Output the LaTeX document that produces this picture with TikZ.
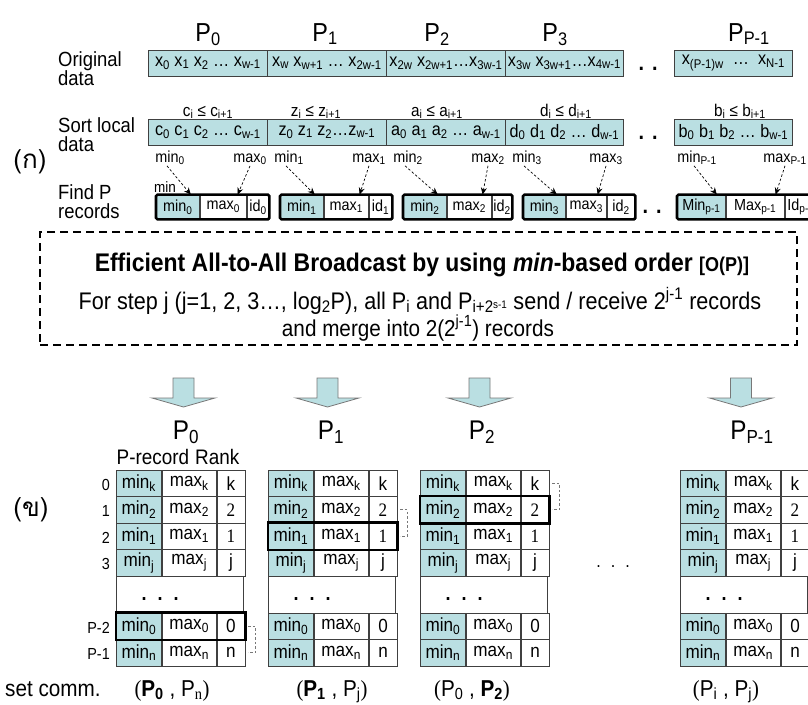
\documentclass[tikz,border=0pt]{standalone}
\usepackage{fontspec}
\setmainfont{Liberation Sans}[FakeStretch=0.9]
\newfontfamily\serf{Liberation Serif}[FakeStretch=0.9]
\newfontfamily\thaifont[Script=Thai]{Loma}
\usetikzlibrary{arrows.meta}
\definecolor{tealc}{RGB}{186,223,226}
\definecolor{bgray}{RGB}{64,64,64}
\definecolor{agray}{RGB}{120,120,120}
\newcommand{\sbs}[1]{\textsubscript{#1}}
\newcommand{\sps}[1]{\textsuperscript{#1}}
\newcommand{\fsz}[1]{\fontsize{#1}{#1}\selectfont}
\newcommand{\rkS}[1]{{\serf #1}}
\begin{document}
\begin{tikzpicture}[x=1pt,y=-1pt,
  seg/.style={draw=bgray, line width=0.8pt, fill=tealc, minimum height=26pt, inner sep=0pt, anchor=west, font=\fsz{18}},
  plab/.style={font=\fsz{26}, inner sep=0pt, anchor=base},
  rlab/.style={font=\fontsize{20.5}{19.5}\selectfont, inner sep=0pt, anchor=north west, align=left},
  cons/.style={font=\fsz{17}, inner sep=0pt, anchor=base},
  mmlab/.style={font=\fsz{16}, inner sep=1pt, anchor=base},
  rcell/.style={draw=bgray, line width=0.8pt, minimum height=24pt, inner sep=0pt, anchor=west, font=\fsz{16}},
  rmin/.style={rcell, fill=tealc},
  rwhite/.style={rcell, fill=white},
  rec/.style={line width=2.6pt, rounded corners=1.5pt},
  dar/.style={dash pattern=on 2.5pt off 2pt, line width=0.7pt, -{Stealth[length=7pt,width=6pt]}},
  dotn/.style={font=\fsz{22}\bfseries, inner sep=0pt, anchor=base},
  blockar/.style={fill=tealc, draw=agray, line width=0.8pt},
  tcell/.style={draw=bgray, line width=0.8pt, minimum height=26.5pt, inner sep=0pt, anchor=west, font=\fsz{19}},
  tmin/.style={tcell, fill=tealc, minimum width=45pt},
  tmax/.style={tcell, fill=white, minimum width=54pt},
  trk/.style={tcell, fill=white, minimum width=28pt},
  tdots/.style={draw=bgray, line width=0.8pt, fill=white, minimum width=127pt, minimum height=37pt, inner sep=0pt, anchor=west},
  thk/.style={line width=2.6pt},
  brk/.style={draw=agray, dash pattern=on 2.5pt off 2pt, line width=0.8pt},
  bl/.style={font=\fsz{23}, inner sep=0pt, anchor=base}
]
\useasboundingbox (0,0) rectangle (808,704);
\clip (0,0) rectangle (808,704);

% top processor labels
\node[plab] (tp0) at (208,41) {P\sbs{0}};
\node[plab] (tp1) at (325,41) {P\sbs{1}};
\node[plab] (tp2) at (437,41) {P\sbs{2}};
\node[plab] (tp3) at (555,41) {P\sbs{3}};
\node[plab] (tp4) at (749,41) {P\sbs{P-1}};

% row labels
\node[rlab] (lo) at (58,51) {Original\\data};
\node[rlab] (ls) at (58,117) {Sort local\\data};
\node[rlab] (lf) at (58,184) {Find P\\records};

\node[font=\thaifont\fsz{26}, inner sep=0pt] (ka) at (30,162) {(ก)};

% original data
\foreach \i/\xl/\w/\tx in {0/148/119/{x\sbs{0} x\sbs{1} x\sbs{2} … x\sbs{w-1}},
  1/267/119/{x\sbs{w} x\sbs{w+1} … x\sbs{2w-1}},
  2/386/119/{x\sbs{2w} x\sbs{2w+1}…x\sbs{3w-1}},
  3/505/118/{x\sbs{3w} x\sbs{3w+1}…x\sbs{4w-1}},
  4/674/118/{x\sbs{(P-1)w}\ \ …\ \ x\sbs{N-1}}}
  \node[seg, minimum width=\w pt] (od\i) at (\xl,63) {\tx};

% sorted data
\foreach \i/\xl/\w/\tx in {0/148/119/{c\sbs{0} c\sbs{1} c\sbs{2} … c\sbs{w-1}},
  1/267/119/{z\sbs{0} z\sbs{1} z\sbs{2}…z\sbs{w-1}},
  2/386/119/{a\sbs{0} a\sbs{1} a\sbs{2} … a\sbs{w-1}},
  3/505/118/{d\sbs{0} d\sbs{1} d\sbs{2} … d\sbs{w-1}},
  4/674/118/{b\sbs{0} b\sbs{1} b\sbs{2} … b\sbs{w-1}}}
  \node[seg, minimum width=\w pt] (sl\i) at (\xl,132) {\tx};

\foreach \i/\xc/\tx in {0/208/{c\sbs{i} ≤ c\sbs{i+1}}, 1/316/{z\sbs{i} ≤ z\sbs{i+1}},
  2/437/{a\sbs{i} ≤ a\sbs{i+1}}, 3/566/{d\sbs{i} ≤ d\sbs{i+1}}, 4/740/{b\sbs{i} ≤ b\sbs{i+1}}}
  \node[cons] (cs\i) at (\xc,116) {\tx};

\node[dotn] (dt1) at (648,70) {.\hspace{8pt}.};
\node[dotn] (dt2) at (648,139) {.\hspace{8pt}.};
\node[dotn] (dt3) at (652,213) {.\hspace{8pt}.};

% P records
\foreach \i/\xa/\wa/\wb/\wc/\ta/\tbb/\tcc/\mnx/\mxx/\lna/\lxa in {
  0/156/43/46/22/min\sbs{0}/max\sbs{0}/id\sbs{0}/170/250/min\sbs{0}/max\sbs{0},
  1/280/43/44/23/min\sbs{1}/max\sbs{1}/id\sbs{1}/289/369/min\sbs{1}/max\sbs{1},
  2/403/43/44/20/min\sbs{2}/max\sbs{2}/id\sbs{2}/408/488/min\sbs{2}/max\sbs{2},
  3/523/42/40/28/min\sbs{3}/max\sbs{3}/id\sbs{2}/527/606/min\sbs{3}/max\sbs{3},
  4/677/48/58/32/Min\sbs{p-1}/Max\sbs{p-1}/Id\sbs{p-1}/697/785/min\sbs{P-1}/max\sbs{P-1}} {
  \node[rmin, minimum width=\wa pt] (r\i-a) at (\xa,207) {\ta};
  \node[rwhite, minimum width=\wb pt] (r\i-b) at (r\i-a.east) {\tbb};
  \node[rwhite, minimum width=\wc pt] (r\i-c) at (r\i-b.east) {\tcc};
  \draw[rec] (r\i-a.north west) rectangle (r\i-c.south east);
  \node[mmlab] (lmn\i) at (\mnx,162) {\lna};
  \node[mmlab] (lmx\i) at (\mxx,162) {\lxa};
  \draw[dar] ([xshift=-3pt]lmn\i.south) -- ([xshift=-9pt]r\i-a.north east);
  \draw[dar] (lmx\i.south) -- ([xshift=-9pt]r\i-b.north east);
}
\node[font=\fsz{15}, anchor=base west, inner sep=0pt] (minsm) at (154,192) {min};

% broadcast box
\node[draw, line width=1.4pt, dash pattern=on 8pt off 5pt, minimum width=757pt, minimum height=113pt, inner sep=0pt] (bc) at (418.5,288.5) {};
\node[anchor=base, inner sep=0pt, font=\fsz{25.5}\bfseries] (bt1) at (422,271) {Efficient All-to-All Broadcast by using \textit{min}-based order {\fsz{20}[O(P)]}};
\node[anchor=base, inner sep=0pt, font=\fsz{24}] (bt2) at (420,309) {For step j (j=1, 2, 3…, log\sbs{2}P), all P\sbs{i} and P\sbs{i+2\raisebox{0.45ex}{\fsz{11}s-1}} send / receive 2\sps{j-1} records};
\node[anchor=base, inner sep=0pt, font=\fsz{23}] (bt3) at (418,336) {and merge into 2(2\sps{j-1}) records};

% block arrows
\foreach \c in {183.5,327.5,479.5,741}
  \draw[blockar] (\c-10.5,378) -- (\c+10.5,378) -- (\c+10.5,398) -- (\c+31.5,398) -- (\c,407) -- (\c-31.5,398) -- (\c-10.5,398) -- cycle;

% bottom processor labels
\node[plab, font=\fsz{27}] (bp0) at (186,439) {P\sbs{0}};
\node[plab, font=\fsz{27}] (bp1) at (331,439) {P\sbs{1}};
\node[plab, font=\fsz{27}] (bp2) at (482,439) {P\sbs{2}};
\node[plab, font=\fsz{27}] (bp3) at (752,439) {P\sbs{P-1}};

\node[font=\fsz{21}, anchor=base, inner sep=0pt] (prr) at (178,464) {P-record\hspace{6pt}Rank};
\node[font=\thaifont\fsz{26}, inner sep=0pt] (kh) at (31,510) {(ข)};

% tables
\foreach \L [count=\tb from 0] in {116,268,420,680} {
  \foreach \ro/\yc/\sx/\rk in {0/483.25/k/k, 1/509.75/2/\rkS{2}, 2/536.25/1/\rkS{1}, 3/562.75/j/j, 4/626.25/0/0, 5/652.75/n/n} {
    \node[tmin] (t\tb-\ro-a) at (\L,\yc) {min\sbs{\sx}};
    \node[tmax] (t\tb-\ro-b) at (t\tb-\ro-a.east) {max\sbs{\sx}};
    \node[trk] (t\tb-\ro-c) at (t\tb-\ro-b.east) {\rk};
  }
  \node[tdots] (t\tb-d) at (\L,594.5) {};
  \node[dotn, font=\fsz{20}\bfseries] (t\tb-dd) at (\L+44,600) {.\hspace{11pt}.\hspace{11pt}.};
}
\draw[thk] (t0-4-a.north west) rectangle (t0-4-c.south east);
\draw[thk] (t1-2-a.north west) rectangle (t1-2-c.south east);
\draw[thk] (t2-1-a.north west) rectangle (t2-1-c.south east);
\draw[brk] ([xshift=3pt]t0-4-c.east) -| ([xshift=10pt]t0-5-c.east) -- ([xshift=3pt]t0-5-c.east);
\draw[brk] ([xshift=3pt]t1-1-c.east) -| ([xshift=10pt]t1-2-c.east) -- ([xshift=3pt]t1-2-c.east);
\draw[brk] ([xshift=3pt]t2-0-c.east) -| ([xshift=10pt]t2-1-c.east) -- ([xshift=3pt]t2-1-c.east);

\foreach \ro/\yc/\tx in {0/490/0, 1/516/1, 2/543/2, 3/569/3, 4/633/P-2, 5/659/P-1}
  \node[font=\fsz{16}, anchor=base east, inner sep=0pt] (rl\ro) at (110,\yc) {\tx};

\node[font=\fsz{18}, anchor=base, inner sep=0pt] (midd) at (613,567) {.\hspace{10pt}.\hspace{10pt}.};

% bottom labels
\node[bl, anchor=base west] (sc) at (5,696) {set comm.};
\node[bl] (c0) at (172,696) {{\serf(}\textbf{P\sbs{0}} , P\sbs{\serf n}{\serf)}};
\node[bl] (c1) at (332,696) {{\serf(}\textbf{P\sbs{1}} , P\sbs{j}{\serf)}};
\node[bl] (c2) at (472,696) {{\serf(}P\sbs{0} , \textbf{P\sbs{2}}{\serf)}};
\node[bl] (c3) at (726,696) {{\serf(}P\sbs{i} , P\sbs{j}{\serf)}};
\end{tikzpicture}
\end{document}
